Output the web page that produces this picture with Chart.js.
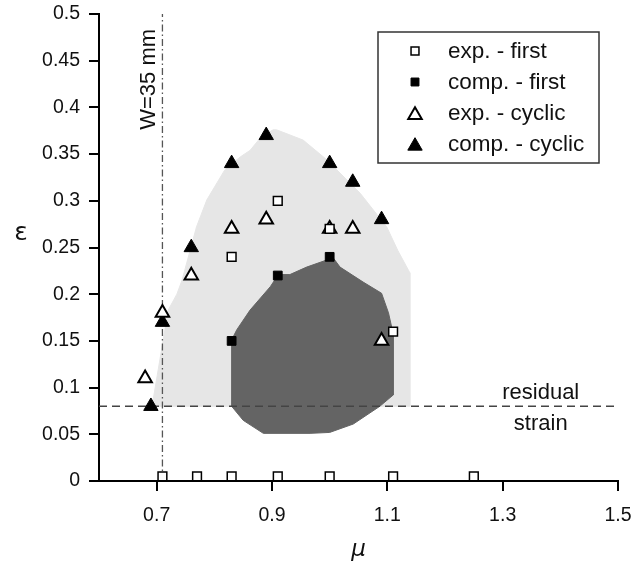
<!DOCTYPE html>
<html>
<head>
<meta charset="utf-8">
<script src="https://cdn.jsdelivr.net/npm/chart.js@4"></script>
<style>
  html, body { margin: 0; padding: 0; background: #fff; }
  #wrap { width: 633px; height: 568px; }
</style>
</head>
<body>
<div id="wrap"><canvas id="chart"></canvas></div>
<script>
// series values (mu, epsilon)
var expFirstX = [0.71, 0.77, 0.83, 0.91, 1.00, 1.11, 1.25, 0.83, 0.91, 1.00, 1.11];
var expFirstY = [0.005, 0.005, 0.005, 0.005, 0.005, 0.005, 0.005, 0.24, 0.30, 0.27, 0.16];

var compFirstX = [0.83, 0.91, 1.00];
var compFirstY = [0.15, 0.22, 0.24];

var expCyclicX = [0.68, 0.71, 0.76, 0.83, 0.89, 1.00, 1.04, 1.09];
var expCyclicY = [0.11, 0.18, 0.22, 0.27, 0.28, 0.27, 0.27, 0.15];

var compCyclicX = [0.69, 0.71, 0.76, 0.83, 0.89, 1.00, 1.04, 1.09];
var compCyclicY = [0.08, 0.17, 0.25, 0.34, 0.37, 0.34, 0.32, 0.28];

// shaded regions (outline vertices)
var lightRegionX = [0.692, 0.720, 0.735, 0.744, 0.769, 0.787, 0.818, 0.845, 0.862, 0.882, 0.902, 0.908, 0.954, 0.995, 1.053, 1.099, 1.118, 1.139, 1.139, 0.692];
var lightRegionY = [0.080, 0.183, 0.200, 0.215, 0.272, 0.301, 0.333, 0.347, 0.354, 0.369, 0.376, 0.376, 0.365, 0.344, 0.308, 0.272, 0.247, 0.223, 0.080, 0.080];

var darkRegionX = [0.830, 0.839, 0.862, 0.897, 0.911, 0.931, 0.960, 1.006, 1.018, 1.058, 1.090, 1.102, 1.110, 1.110, 1.087, 1.041, 1.000, 0.966, 0.885, 0.850, 0.830, 0.830];
var darkRegionY = [0.151, 0.162, 0.183, 0.208, 0.221, 0.221, 0.229, 0.239, 0.229, 0.213, 0.201, 0.180, 0.158, 0.092, 0.080, 0.061, 0.052, 0.051, 0.051, 0.065, 0.080, 0.151];

// reference lines
var residualStrain = 0.08;
var widthLimit = 0.71;

// axes
var xTicks = [0.7, 0.9, 1.1, 1.3, 1.5];
var xTickLabels = ['0.7', '0.9', '1.1', '1.3', '1.5'];
var yTicks = [0, 0.05, 0.1, 0.15, 0.2, 0.25, 0.3, 0.35, 0.4, 0.45, 0.5];
var yTickLabels = ['0', '0.05', '0.1', '0.15', '0.2', '0.25', '0.3', '0.35', '0.4', '0.45', '0.5'];

var seriesNames = ['exp. - first', 'comp. - first', 'exp. - cyclic', 'comp. - cyclic'];

function pts(xs, ys) {
  return xs.map(function (x, i) { return { x: x, y: ys[i] }; });
}

var FONT = '"Liberation Sans", Arial, sans-serif';
Chart.defaults.font.family = FONT;
Chart.defaults.color = '#111';

// legend box + free text
var extras = {
  id: 'extras',
  afterDatasetsDraw: function (chart) {
    var ctx = chart.ctx;
    var xs = chart.scales.x, ys = chart.scales.y;
    var area = chart.chartArea;
    ctx.save();
    ctx.fillStyle = '#111';

    // W=35 mm
    ctx.font = '22px ' + FONT;
    ctx.translate(xs.getPixelForValue(widthLimit) - 2, ys.getPixelForValue(0.43));
    ctx.rotate(-Math.PI / 2);
    ctx.textAlign = 'center';
    ctx.textBaseline = 'bottom';
    ctx.fillText('W=35 mm', 0, 0);
    ctx.setTransform(1, 0, 0, 1, 0, 0);

    // residual strain
    var ry = ys.getPixelForValue(residualStrain);
    var rx = xs.getPixelForValue(1.366);
    ctx.font = '22px ' + FONT;
    ctx.textAlign = 'center';
    ctx.textBaseline = 'alphabetic';
    ctx.fillText('residual', rx, ry - 7);
    ctx.fillText('strain', rx, ry + 24);

    // axis titles
    ctx.font = '25px "DejaVu Sans"';
    ctx.fillText('ε', 21, ys.getPixelForValue(0.258));
    ctx.font = 'italic 23px "DejaVu Sans"';
    ctx.fillText('μ', (area.left + area.right) / 2, 556);

    // legend
    var left = area.right - 240, top = area.top + 18;
    ctx.fillStyle = '#fff';
    ctx.fillRect(left, top, 221, 131);
    ctx.strokeStyle = '#333';
    ctx.lineWidth = 1.5;
    ctx.strokeRect(left, top, 221, 131);
    ctx.font = '22.5px ' + FONT;
    ctx.textAlign = 'left';
    ctx.textBaseline = 'middle';
    for (var i = 0; i < 4; i++) {
      var ds = chart.data.datasets[i];
      var cy = top + 19 + i * 31;
      ctx.fillStyle = ds.backgroundColor;
      ctx.strokeStyle = ds.borderColor;
      ctx.lineWidth = ds.borderWidth;
      Chart.helpers.drawPoint(ctx, {
        pointStyle: ds.pointStyle,
        radius: ds.pointStyle === 'rect' ? ds.pointRadius - 0.6 : ds.pointRadius,
        rotation: 0,
        borderWidth: ds.borderWidth
      }, left + 37, cy + (ds.pointStyle === 'triangle' ? 2 : 0));
      ctx.fillStyle = '#111';
      ctx.fillText(seriesNames[i], left + 70, cy + 1);
    }
    ctx.restore();
  }
};

new Chart(document.getElementById('chart'), {
  type: 'scatter',
  data: {
    datasets: [
      {
        label: seriesNames[0], data: pts(expFirstX, expFirstY), order: 0,
        pointStyle: 'rect', pointRadius: 6.2, backgroundColor: '#fff', borderColor: '#000', borderWidth: 1.5
      },
      {
        label: seriesNames[1], data: pts(compFirstX, compFirstY), order: 1,
        pointStyle: 'rect', pointRadius: 6.2, backgroundColor: '#000', borderColor: '#000', borderWidth: 1
      },
      {
        label: seriesNames[2], data: pts(expCyclicX, expCyclicY), order: 2,
        pointStyle: 'triangle', pointRadius: 7.8, backgroundColor: '#fff', borderColor: '#000', borderWidth: 2
      },
      {
        label: seriesNames[3], data: pts(compCyclicX, compCyclicY), order: 2,
        pointStyle: 'triangle', pointRadius: 8.3, backgroundColor: '#000', borderColor: '#000', borderWidth: 1
      },
      {
        label: 'residual', data: pts([0.6, 1.5], [residualStrain, residualStrain]), order: 3,
        showLine: true, pointRadius: 0, borderColor: '#444', borderWidth: 1.5, borderDash: [8, 5]
      },
      {
        label: 'width', data: pts([widthLimit, widthLimit], [0, 0.5]), order: 3,
        showLine: true, pointRadius: 0, borderColor: '#555', borderWidth: 1.3, borderDash: [7, 3, 1.5, 3]
      },
      {
        label: 'dark', data: pts(darkRegionX, darkRegionY), order: 4,
        showLine: true, pointRadius: 0, fill: 'shape', backgroundColor: '#646464', borderColor: '#646464', borderWidth: 1
      },
      {
        label: 'light', data: pts(lightRegionX, lightRegionY), order: 5,
        showLine: true, pointRadius: 0, fill: 'shape', backgroundColor: '#e6e6e6', borderColor: '#e6e6e6', borderWidth: 1
      }
    ]
  },
  options: {
    responsive: true,
    maintainAspectRatio: false,
    animation: false,
    events: [],
    layout: { padding: { top: 14, right: 15, left: 0, bottom: 0 } },
    plugins: { legend: { display: false }, tooltip: { enabled: false } },
    scales: {
      x: {
        type: 'linear', position: 'bottom', min: 0.6, max: 1.5,
        afterBuildTicks: function (s) { s.ticks = xTicks.map(function (v) { return { value: v }; }); },
        afterFit: function (s) { s.height = 87; s.paddingLeft = 0; s.paddingRight = 0; },
        ticks: {
          padding: 13, font: { size: 19.5 }, color: '#111', maxRotation: 0,
          callback: function (v, i) { return xTickLabels[i]; }
        },
        grid: { drawOnChartArea: false, drawTicks: true, tickLength: 10, color: '#000', lineWidth: 2 },
        border: { display: true, color: '#000', width: 2 }
      },
      y: {
        type: 'linear', min: 0, max: 0.5,
        afterBuildTicks: function (s) { s.ticks = yTicks.map(function (v) { return { value: v }; }); },
        afterFit: function (s) { s.width = 99; s.paddingTop = 0; s.paddingBottom = 0; },
        ticks: {
          padding: 9, font: { size: 19.5 }, color: '#111',
          callback: function (v, i) { return yTickLabels[i]; }
        },
        grid: { drawOnChartArea: false, drawTicks: true, tickLength: 10, color: '#000', lineWidth: 2 },
        border: { display: true, color: '#000', width: 2 }
      }
    }
  },
  plugins: [extras]
});
</script>
</body>
</html>
